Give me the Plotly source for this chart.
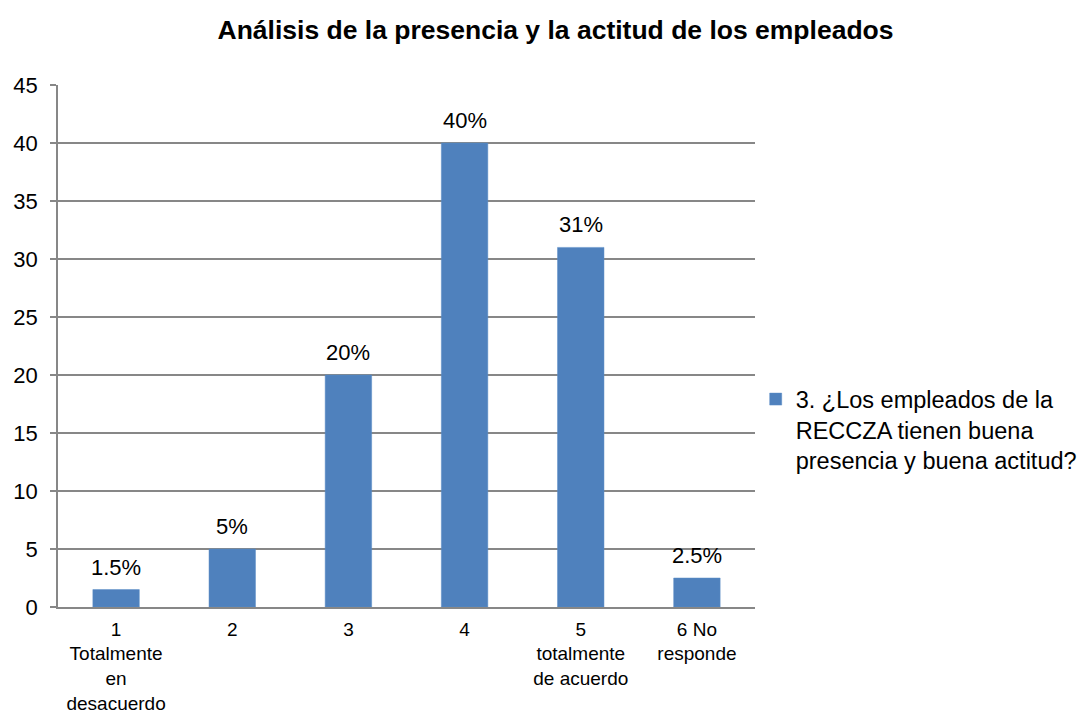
import plotly.graph_objects as go

# Survey responses, question 3 (percent of respondents)
categories = ["1", "2", "3", "4", "5", "6"]
tick_labels = [
    "1<br>Totalmente<br>en<br>desacuerdo",
    "2",
    "3",
    "4",
    "5<br>totalmente<br>de acuerdo",
    "6 No<br>responde",
]
values = [1.5, 5, 20, 40, 31, 2.5]
series_name = "3. ¿Los empleados de la<br>RECCZA tienen buena<br>presencia y buena actitud?"

BAR = "#4F81BD"
GRID = "#878787"
FONT = "Liberation Sans, Arial, sans-serif"

fig = go.Figure()
fig.add_trace(go.Bar(
    x=categories,
    y=values,
    name=series_name,
    marker=dict(color=BAR, line=dict(color="#5B8CC6", width=0.5)),
    width=0.4,
    showlegend=True,
    hoverinfo="x+y",
))

# value labels above each bar (category axis positions are indices)
for i, v in enumerate(values):
    fig.add_annotation(
        x=i, y=v, text=f"{v:g}%", showarrow=False,
        xref="x", yref="y", yanchor="bottom", yshift=8,
        font=dict(family=FONT, size=22, color="#000000"),
    )

fig.update_layout(
    width=1085, height=714,
    paper_bgcolor="white", plot_bgcolor="white",
    margin=dict(l=58, r=330, t=85, b=107, autoexpand=False),
    font=dict(family=FONT, size=19, color="#000000"),
    title=dict(
        text="<b>Análisis de la presencia y la actitud de los empleados</b>",
        x=0.512, xanchor="center", xref="container",
        y=0.958, yanchor="middle", yref="container",
        font=dict(family=FONT, size=26.5, color="#000000"),
    ),
    showlegend=True,
    legend=dict(
        x=1.001, xanchor="left", y=0.44, yanchor="top",
        valign="top", itemwidth=30,
        font=dict(family=FONT, size=23.5, color="#000000"),
        bgcolor="rgba(0,0,0,0)",
    ),
)

fig.update_xaxes(
    type="category",
    range=[-0.5, 5.5],
    tickmode="array", tickvals=categories, ticktext=tick_labels,
    showline=True, linecolor=GRID, linewidth=1.5,
    showgrid=False, ticks="",
    ticklabelstandoff=4,
    tickfont=dict(family=FONT, size=19, color="#000000"),
)
fig.update_yaxes(
    range=[0, 45], dtick=5, tick0=0,
    showline=True, linecolor=GRID, linewidth=1.5,
    showgrid=True, gridcolor=GRID, gridwidth=1.5,
    ticks="outside", ticklen=6, tickcolor=GRID, tickwidth=1.5,
    ticklabelstandoff=8,
    tickfont=dict(family=FONT, size=22, color="#000000"),
    zeroline=False,
)

fig.write_html("out.html")
